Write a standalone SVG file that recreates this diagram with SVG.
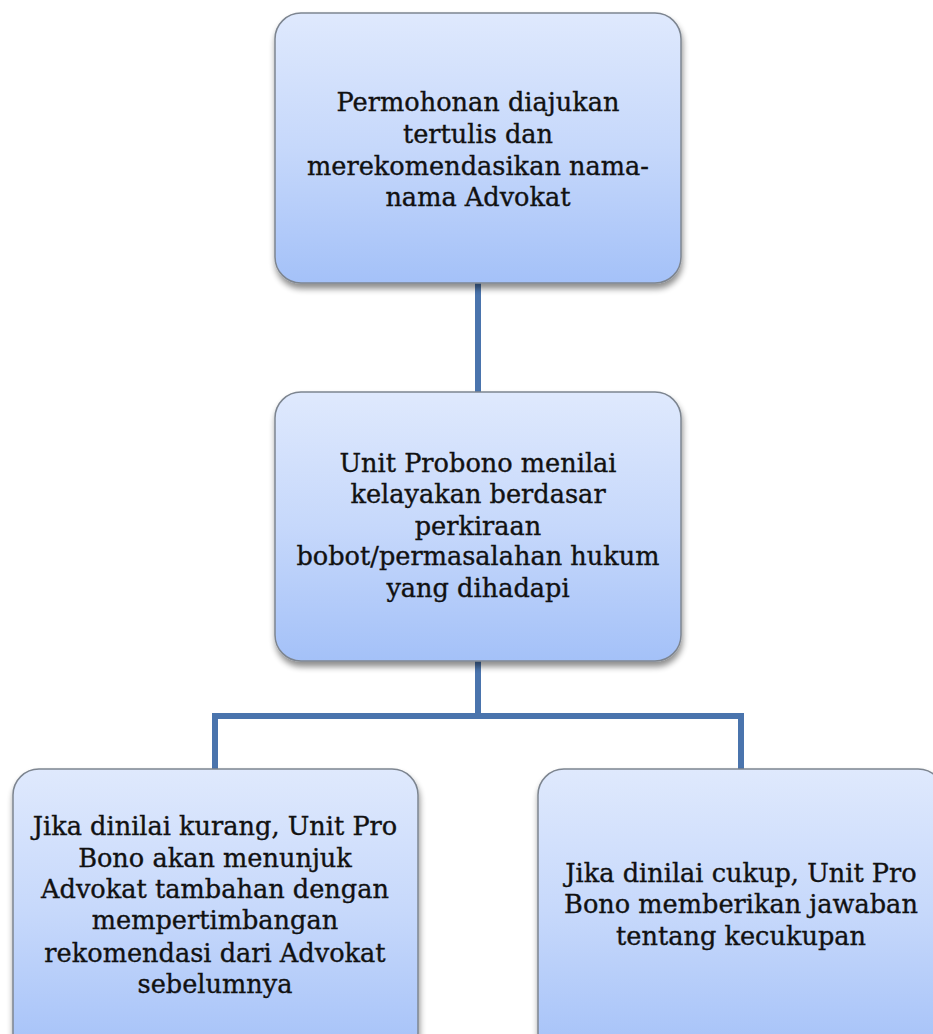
<svg xmlns="http://www.w3.org/2000/svg" width="933" height="1034" viewBox="0 0 933 1034">
<style>
.box{fill:url(#g);stroke:#7d8590;stroke-width:1.5;filter:url(#sh)}
.t{font-family:"DejaVu Serif","Liberation Serif",serif;font-size:25.6px;fill:#111111;stroke:#111111;stroke-width:0.35;text-anchor:middle}
.c{fill:none;stroke:#4a74ad;stroke-width:6;stroke-linejoin:miter}
</style>
<defs>
<linearGradient id="g" x1="0" y1="0" x2="0" y2="1">
<stop offset="0" stop-color="#dfe9fd"/>
<stop offset="0.5" stop-color="#c6d8fb"/>
<stop offset="1" stop-color="#a4c1f8"/>
</linearGradient>
<filter id="sh" x="-10%" y="-10%" width="125%" height="130%">
<feGaussianBlur in="SourceAlpha" stdDeviation="3"/>
<feOffset dx="1" dy="5" result="b"/>
<feComponentTransfer><feFuncA type="linear" slope="0.45"/></feComponentTransfer>
<feMerge><feMergeNode/><feMergeNode in="SourceGraphic"/></feMerge>
</filter>
</defs>
<rect width="933" height="1034" fill="#ffffff"/>
<g id="connectors">
<path class="c" d="M478,283 V392"/>
<path class="c" d="M478,661 V716 M215,769 V716 H741 V769"/>
</g>
<g id="node1">
<rect class="box" x="275" y="13" width="406" height="270" rx="26"/>
<text class="t"><tspan x="478" y="111">Permohonan diajukan</tspan><tspan x="478" y="143">tertulis dan</tspan><tspan x="478" y="175">merekomendasikan nama-</tspan><tspan x="478" y="206">nama Advokat</tspan></text>
</g>
<g id="node2">
<rect class="box" x="275" y="392" width="406" height="269" rx="26"/>
<text class="t"><tspan x="478" y="472">Unit Probono menilai</tspan><tspan x="478" y="503">kelayakan berdasar</tspan><tspan x="478" y="535">perkiraan</tspan><tspan x="478" y="565">bobot/permasalahan hukum</tspan><tspan x="478" y="597">yang dihadapi</tspan></text>
</g>
<g id="node3">
<rect class="box" x="13" y="769" width="405" height="290" rx="26"/>
<text class="t"><tspan x="215" y="835">Jika dinilai kurang, Unit Pro</tspan><tspan x="215" y="867">Bono akan menunjuk</tspan><tspan x="215" y="898">Advokat tambahan dengan</tspan><tspan x="215" y="929">mempertimbangan</tspan><tspan x="215" y="962">rekomendasi dari Advokat</tspan><tspan x="215" y="993">sebelumnya</tspan></text>
</g>
<g id="node4">
<rect class="box" x="538" y="769" width="406" height="290" rx="26"/>
<text class="t"><tspan x="741" y="882">Jika dinilai cukup, Unit Pro</tspan><tspan x="741" y="913">Bono memberikan jawaban</tspan><tspan x="741" y="945">tentang kecukupan</tspan></text>
</g>
</svg>
